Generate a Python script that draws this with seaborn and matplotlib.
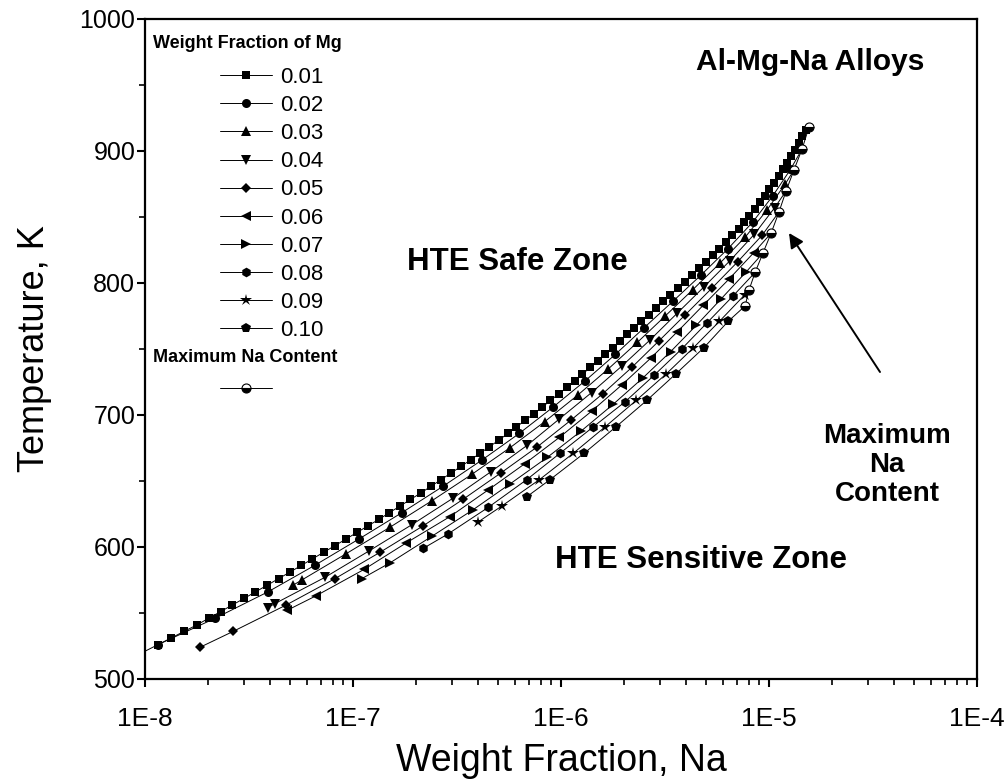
import numpy as np
import pandas as pd
import matplotlib
matplotlib.use("Agg")
import matplotlib.pyplot as plt
import seaborn as sns
from matplotlib.lines import Line2D
from matplotlib.ticker import FixedLocator, FuncFormatter, MultipleLocator, LogLocator, NullFormatter

# ---------------- data (temperature K, log10 of Na weight fraction) ----------------
mg_labels = ["0.01", "0.02", "0.03", "0.04", "0.05", "0.06", "0.07", "0.08", "0.09", "0.10"]

T_001 = [516, 526, 531, 536, 541, 546, 551, 556, 561, 566, 571, 576, 581, 586, 591, 596, 601, 606, 611,
         616, 621, 626, 631, 636, 641, 646, 651, 656, 661, 666, 671, 676, 681, 686, 691, 696, 701, 706,
         711, 716, 721, 726, 731, 736, 741, 746, 751, 756, 761, 766, 771, 776, 781, 786, 791, 796, 801,
         806, 811, 816, 821, 826, 831, 836, 841, 846, 851, 856, 861, 866, 871, 876, 881, 886, 891, 896,
         901, 906, 911, 916, 918]
L_001 = [-8.063, -7.938, -7.875, -7.813, -7.750, -7.694, -7.637, -7.581, -7.524, -7.469, -7.413,
         -7.358, -7.303, -7.249, -7.195, -7.141, -7.087, -7.034, -6.981, -6.928, -6.875,
         -6.825, -6.774, -6.724, -6.673, -6.625, -6.577, -6.529, -6.481, -6.435, -6.389,
         -6.344, -6.298, -6.256, -6.214, -6.172, -6.130, -6.090, -6.051, -6.011, -5.971,
         -5.934, -5.897, -5.859, -5.822, -5.787, -5.752, -5.718, -5.683, -5.648, -5.613,
         -5.578, -5.543, -5.508, -5.474, -5.439, -5.404, -5.370, -5.337, -5.303, -5.269,
         -5.238, -5.207, -5.176, -5.144, -5.119, -5.094, -5.069, -5.043, -5.020, -4.998,
         -4.975, -4.952, -4.933, -4.914, -4.894, -4.875, -4.857, -4.840, -4.822, -4.808]

T_002 = [526, 546, 566, 586, 606, 626, 646, 666, 686, 706, 726, 746, 766, 786, 806, 826, 846, 866, 886, 901.5]
L_002 = [-7.938, -7.663, -7.409, -7.185, -6.972, -6.765, -6.567, -6.379, -6.201, -6.038, -5.883,
         -5.738, -5.601, -5.463, -5.327, -5.197, -5.079, -4.982, -4.897, -4.841]

T_003 = [571, 575, 595, 615, 635, 655, 675, 695, 715, 735, 755, 775, 795, 815, 835, 855, 875, 885.6]
L_003 = [-7.289, -7.246, -7.032, -6.822, -6.621, -6.429, -6.247, -6.078, -5.920, -5.772, -5.633,
         -5.499, -5.366, -5.236, -5.113, -5.011, -4.922, -4.880]

T_004 = [554, 557, 577, 597, 617, 637, 657, 677, 697, 717, 737, 757, 777, 797, 817, 837, 857, 869.7]
L_004 = [-7.410, -7.377, -7.135, -6.923, -6.716, -6.519, -6.337, -6.163, -6.008, -5.853, -5.708,
         -5.571, -5.442, -5.313, -5.187, -5.070, -4.973, -4.918]

T_005 = [524, 536, 556, 576, 596, 616, 636, 656, 676, 696, 716, 736, 756, 776, 796, 816, 836, 853.8]
L_005 = [-7.736, -7.577, -7.322, -7.087, -6.870, -6.663, -6.472, -6.290, -6.113, -5.953, -5.800,
         -5.660, -5.530, -5.402, -5.275, -5.151, -5.034, -4.952]

T_006 = [552, 563, 583, 603, 623, 643, 663, 683, 703, 723, 743, 763, 783, 803, 823, 837.7]
L_006 = [-7.317, -7.178, -6.947, -6.745, -6.534, -6.352, -6.175, -6.008, -5.852, -5.706, -5.569,
         -5.441, -5.317, -5.192, -5.073, -4.990]

T_007 = [576, 588, 608, 628, 648, 668, 688, 708, 728, 748, 768, 788, 808, 822.7]
L_007 = [-6.958, -6.822, -6.622, -6.425, -6.243, -6.065, -5.902, -5.750, -5.607, -5.473, -5.349,
         -5.230, -5.112, -5.029]

T_008 = [599, 610, 630, 651, 671, 691, 710, 730, 750, 770, 790, 808]
L_008 = [-6.662, -6.542, -6.350, -6.165, -6.005, -5.845, -5.692, -5.553, -5.420, -5.297, -5.174, -5.067]

T_009 = [619, 631, 651, 671, 691, 711, 731, 751, 771, 791, 794.7]
L_009 = [-6.398, -6.285, -6.104, -5.941, -5.788, -5.639, -5.495, -5.363, -5.238, -5.117, -5.096]

T_010 = [638, 651, 671, 691, 711, 731, 751, 771, 782.6]
L_010 = [-6.165, -6.053, -5.889, -5.736, -5.588, -5.449, -5.313, -5.196, -5.115]

# maximum Na content (end point of every Mg curve)
T_max = [918, 901.5, 885.6, 869.7, 853.8, 837.7, 822.7, 808, 794.7, 782.6]
L_max = [-4.808, -4.841, -4.880, -4.918, -4.952, -4.990, -5.029, -5.067, -5.096, -5.115]

x_ticks = [1e-8, 1e-7, 1e-6, 1e-5, 1e-4]
y_ticks = [500, 600, 700, 800, 900, 1000]

# ---------------- styling ----------------
sns.set_theme(style="ticks")
plt.rcParams['font.family'] = ['Liberation Sans', 'DejaVu Sans']
plt.rcParams.update({"text.color": "black", "axes.labelcolor": "black",
                     "xtick.color": "black", "ytick.color": "black",
                     "xtick.labelcolor": "black", "ytick.labelcolor": "black"})

W, H = 1005, 782
fig = plt.figure(figsize=(W / 100, H / 100), dpi=100)
ax = fig.add_axes([145 / W, 1 - 679 / H, 832 / W, 660 / H])
ax.set_xscale("log")

markers = {"0.01": ("s", 5.8), "0.02": ("o", 6.5), "0.03": ("^", 7.5), "0.04": ("v", 7.5),
           "0.05": ("D", 5.6), "0.06": ("<", 7.5), "0.07": (">", 7.5), "0.08": ("h", 7.0),
           "0.09": ("*", 9.0), "0.10": ("p", 7.5)}

series_T = [T_001, T_002, T_003, T_004, T_005, T_006, T_007, T_008, T_009, T_010]
series_L = [L_001, L_002, L_003, L_004, L_005, L_006, L_007, L_008, L_009, L_010]

for lab, T, L in zip(mg_labels, series_T, series_L):
    df = pd.DataFrame({"Na": 10.0 ** np.asarray(L), "T": T})
    m, ms = markers[lab]
    sns.lineplot(data=df, x="Na", y="T", ax=ax, color="black", linewidth=0.7,
                 marker=m, markersize=ms, markeredgewidth=0, markeredgecolor="black",
                 markevery=slice(0, len(T) - 1), sort=False, estimator=None, legend=False)

df_max = pd.DataFrame({"Na": 10.0 ** np.asarray(L_max), "T": T_max})
sns.lineplot(data=df_max, x="Na", y="T", ax=ax, color="black", linewidth=0.7,
             sort=False, estimator=None, legend=False)
ax.plot(df_max["Na"], df_max["T"], linestyle="none", marker="o", markersize=6.5,
        markerfacecolor="black", markerfacecoloralt="white", fillstyle="bottom",
        markeredgecolor="black", markeredgewidth=0.8, zorder=5)

# axes
ax.set_xlim(1e-8, 1e-4)
ax.set_ylim(500, 1000)
ax.xaxis.set_major_locator(FixedLocator(x_ticks))
ax.xaxis.set_major_formatter(FuncFormatter(lambda v, _: "1E%d" % int(round(np.log10(v)))))
ax.xaxis.set_minor_locator(LogLocator(base=10, subs=np.arange(2, 10)))
ax.xaxis.set_minor_formatter(NullFormatter())
ax.yaxis.set_major_locator(FixedLocator(y_ticks))
ax.yaxis.set_minor_locator(MultipleLocator(50))
for s in ax.spines.values():
    s.set_linewidth(1.6)
    s.set_color("black")
ax.tick_params(which="major", direction="out", length=6, width=1.5, colors="black",
               labelsize=18, top=False, right=False)
ax.tick_params(which="minor", direction="out", length=4, width=1.2, colors="black",
               top=False, right=False)
ax.tick_params(axis="x", which="major", labelsize=19, pad=14)
ax.tick_params(axis="y", which="major", pad=1)
ax.set_xlabel("Weight Fraction, Na", fontsize=27, labelpad=9, color="black")
ax.set_ylabel("Temperature, K", fontsize=26, labelpad=20, color="black")
ax.grid(False)

# legend
def fx(p):
    return p / W

def fy(p):
    return 1 - p / H

handles = []
for lab in mg_labels:
    m, ms = markers[lab]
    handles.append(Line2D([], [], color="black", linewidth=0.7, marker=m, markersize=ms,
                          markeredgewidth=0))
leg1 = ax.legend(handles, mg_labels, loc="upper left", bbox_to_anchor=(fx(220), fy(67)),
                 bbox_transform=fig.transFigure, frameon=False, fontsize=16,
                 handlelength=2.35, handletextpad=0.35, labelspacing=0.32,
                 borderpad=0, borderaxespad=0, labelcolor="black")
ax.add_artist(leg1)
hmax = Line2D([], [], color="black", linewidth=0.7, marker="o", markersize=6.5,
              markerfacecolor="black", markerfacecoloralt="white", fillstyle="bottom",
              markeredgecolor="black", markeredgewidth=0.8)
leg2 = ax.legend([hmax], [""], loc="upper left", bbox_to_anchor=(fx(220), fy(380)),
                 bbox_transform=fig.transFigure, frameon=False, fontsize=16,
                 handlelength=2.35, handletextpad=0.0, borderpad=0, borderaxespad=0)

fig.text(fx(153), fy(43), "Weight Fraction of Mg", fontsize=13, fontweight="bold",
         ha="left", va="center", color="black")
fig.text(fx(153), fy(358), "Maximum Na Content", fontsize=13, fontweight="bold",
         ha="left", va="center", color="black")

# annotations
fig.text(fx(810), fy(62), "Al-Mg-Na Alloys", fontsize=21.5, fontweight="bold", ha="center",
         va="center", color="black")
fig.text(fx(517), fy(262), "HTE Safe Zone", fontsize=22.5, fontweight="bold", ha="center",
         va="center", color="black")
fig.text(fx(701), fy(560), "HTE Sensitive Zone", fontsize=22.5, fontweight="bold", ha="center",
         va="center", color="black")
fig.text(fx(887), fy(465), "Maximum\nNa\nContent", fontsize=20, fontweight="bold", ha="center",
         va="center", linespacing=1.15, color="black")
ax.annotate("", xy=(fx(789), fy(233)), xycoords="figure fraction",
            xytext=(fx(880), fy(372)), textcoords="figure fraction",
            arrowprops=dict(arrowstyle="-|>", color="black", lw=1.4, mutation_scale=22,
                            shrinkA=0, shrinkB=0))

fig.savefig("out.png", dpi=100)
